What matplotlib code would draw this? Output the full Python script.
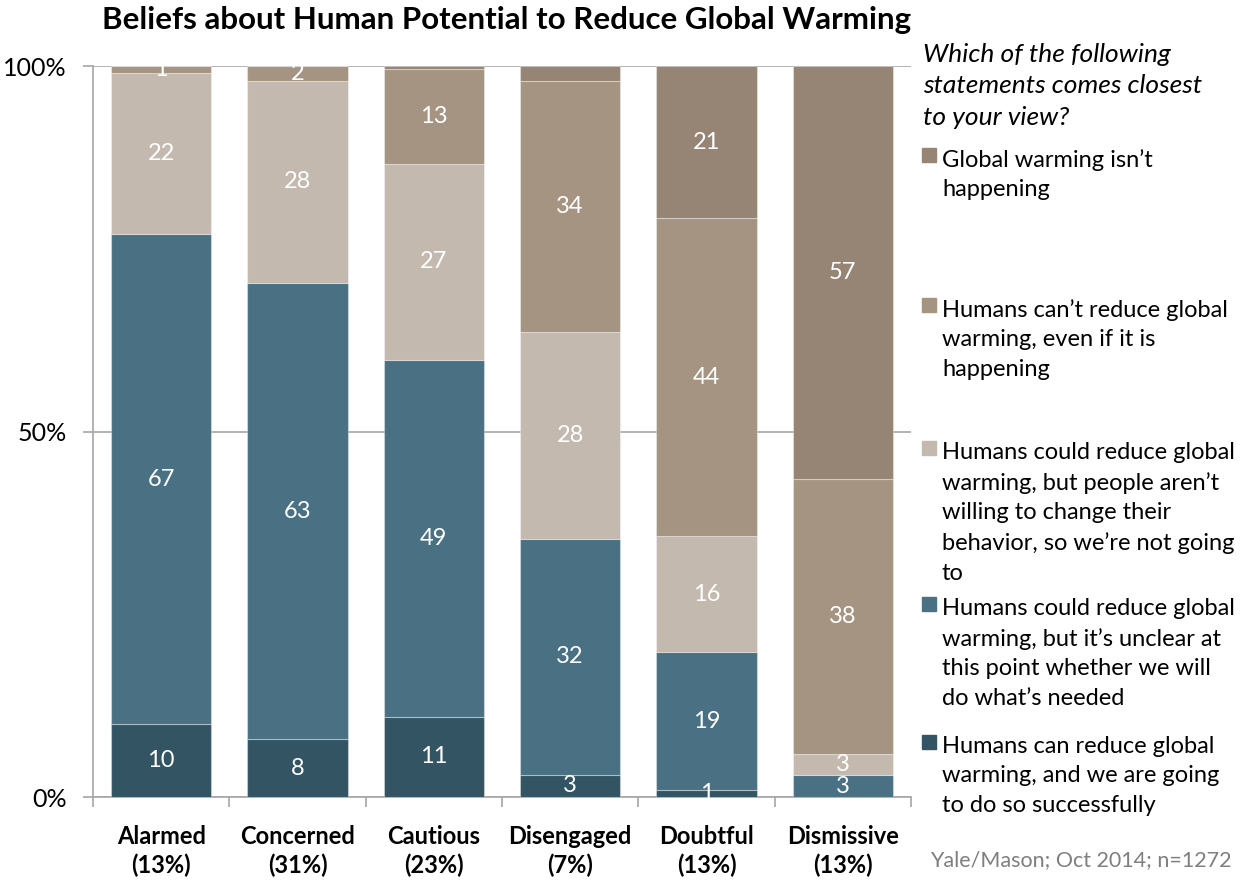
import matplotlib
matplotlib.use("Agg")
import matplotlib.pyplot as plt
import numpy as np

plt.rcParams['font.family'] = ['Lato', 'DejaVu Sans']

categories = ["Alarmed\n(13%)", "Concerned\n(31%)", "Cautious\n(23%)",
              "Disengaged\n(7%)", "Doubtful\n(13%)", "Dismissive\n(13%)"]

series_names = [
    "Humans can reduce global\nwarming, and we are going\nto do so successfully",
    "Humans could reduce global\nwarming, but it\u2019s unclear at\nthis point whether we will\ndo what\u2019s needed",
    "Humans could reduce global\nwarming, but people aren\u2019t\nwilling to change their\nbehavior, so we\u2019re not going\nto",
    "Humans can\u2019t reduce global\nwarming, even if it is\nhappening",
    "Global warming isn\u2019t\nhappening",
]

can_will = [10, 8, 11, 3, 1, 0]
could_unclear = [67, 63, 49, 32, 19, 3]
could_people = [22, 28, 27, 28, 16, 3]
cant_reduce = [1, 2, 13, 34, 44, 38]
isnt_happening = [0, 0, 0.4, 2, 21, 57]

# labels hidden in the original (category index, series index)
hidden_labels = {(2, 4), (3, 4)}

colors = ["#335463", "#4a7183", "#c4b9ae", "#a59482", "#968575"]

series = [can_will, could_unclear, could_people, cant_reduce, isnt_happening]
data = np.array(series, dtype=float)
totals = data.sum(axis=0)
shares = data / totals * 100

fig = plt.figure(figsize=(12.52, 8.81), dpi=100)
ax = fig.add_axes([0.0743, 0.0953, 0.6533, 0.8297])

x = np.arange(len(categories))
bottom = np.zeros(len(categories))
for si, (vals, col) in enumerate(zip(shares, colors)):
    ax.bar(x, vals, bottom=bottom, width=0.735, color=col, edgecolor=(1, 1, 1, 0.35),
           linewidth=0.8, zorder=3)
    for ci in range(len(categories)):
        raw = data[si, ci]
        if raw >= 1 and (ci, si) not in hidden_labels:
            ax.text(x[ci], bottom[ci] + vals[ci] / 2, f"{raw:g}", ha="center", va="center",
                    color="white", fontsize=17, zorder=4)
    bottom += vals

ax.set_xlim(-0.5, len(categories) - 0.5)
ax.set_ylim(0, 100)
ax.set_yticks([0, 50, 100])
ax.set_yticklabels(["0%", "50%", "100%"], fontsize=18)
ax.yaxis.grid(True, color="#a6a6a6", linewidth=1.2, zorder=0)
ax.set_axisbelow(True)

ax.set_xticks(x)
ax.set_xticklabels(categories, fontsize=17, fontweight="bold", linespacing=1.3)
ax.set_xticks(np.arange(-0.5, len(categories), 1), minor=True)
ax.tick_params(axis="x", which="major", length=0, pad=20)
ax.tick_params(axis="x", which="minor", length=7, color="#a6a6a6", width=1.2)
ax.tick_params(axis="y", length=7, color="#a6a6a6", width=1.2, pad=12)

for s in ["top", "right"]:
    ax.spines[s].set_visible(False)
for s in ["left", "bottom"]:
    ax.spines[s].set_color("#a6a6a6")
    ax.spines[s].set_linewidth(1.2)

fig.text(0.405, 0.993, "Beliefs about Human Potential to Reduce Global Warming",
         ha="center", va="top", fontsize=22.5, fontweight="bold")

fig.text(0.737, 1 - 43 / 881, "Which of the following\nstatements comes closest\nto your view?",
         ha="left", va="top", fontsize=19, style="italic", linespacing=1.44)

legend_tops = [148, 298, 441, 597, 735]
order = [4, 3, 2, 1, 0]
for top, si in zip(legend_tops, order):
    fig.patches.append(plt.Rectangle((922 / 1252, 1 - (top + 14) / 881), 14 / 1252, 14 / 881,
                                     transform=fig.transFigure, color=colors[si]))
    fig.text(942 / 1252, 1 - (top + 1) / 881, series_names[si], ha="left", va="top",
             fontsize=17, linespacing=1.5)

fig.text(1232 / 1252, 1 - 860 / 881, "Yale/Mason; Oct 2014; n=1272", ha="right",
         va="center", fontsize=15.5, color="#7f7f7f")

fig.savefig("out.png", dpi=100)
